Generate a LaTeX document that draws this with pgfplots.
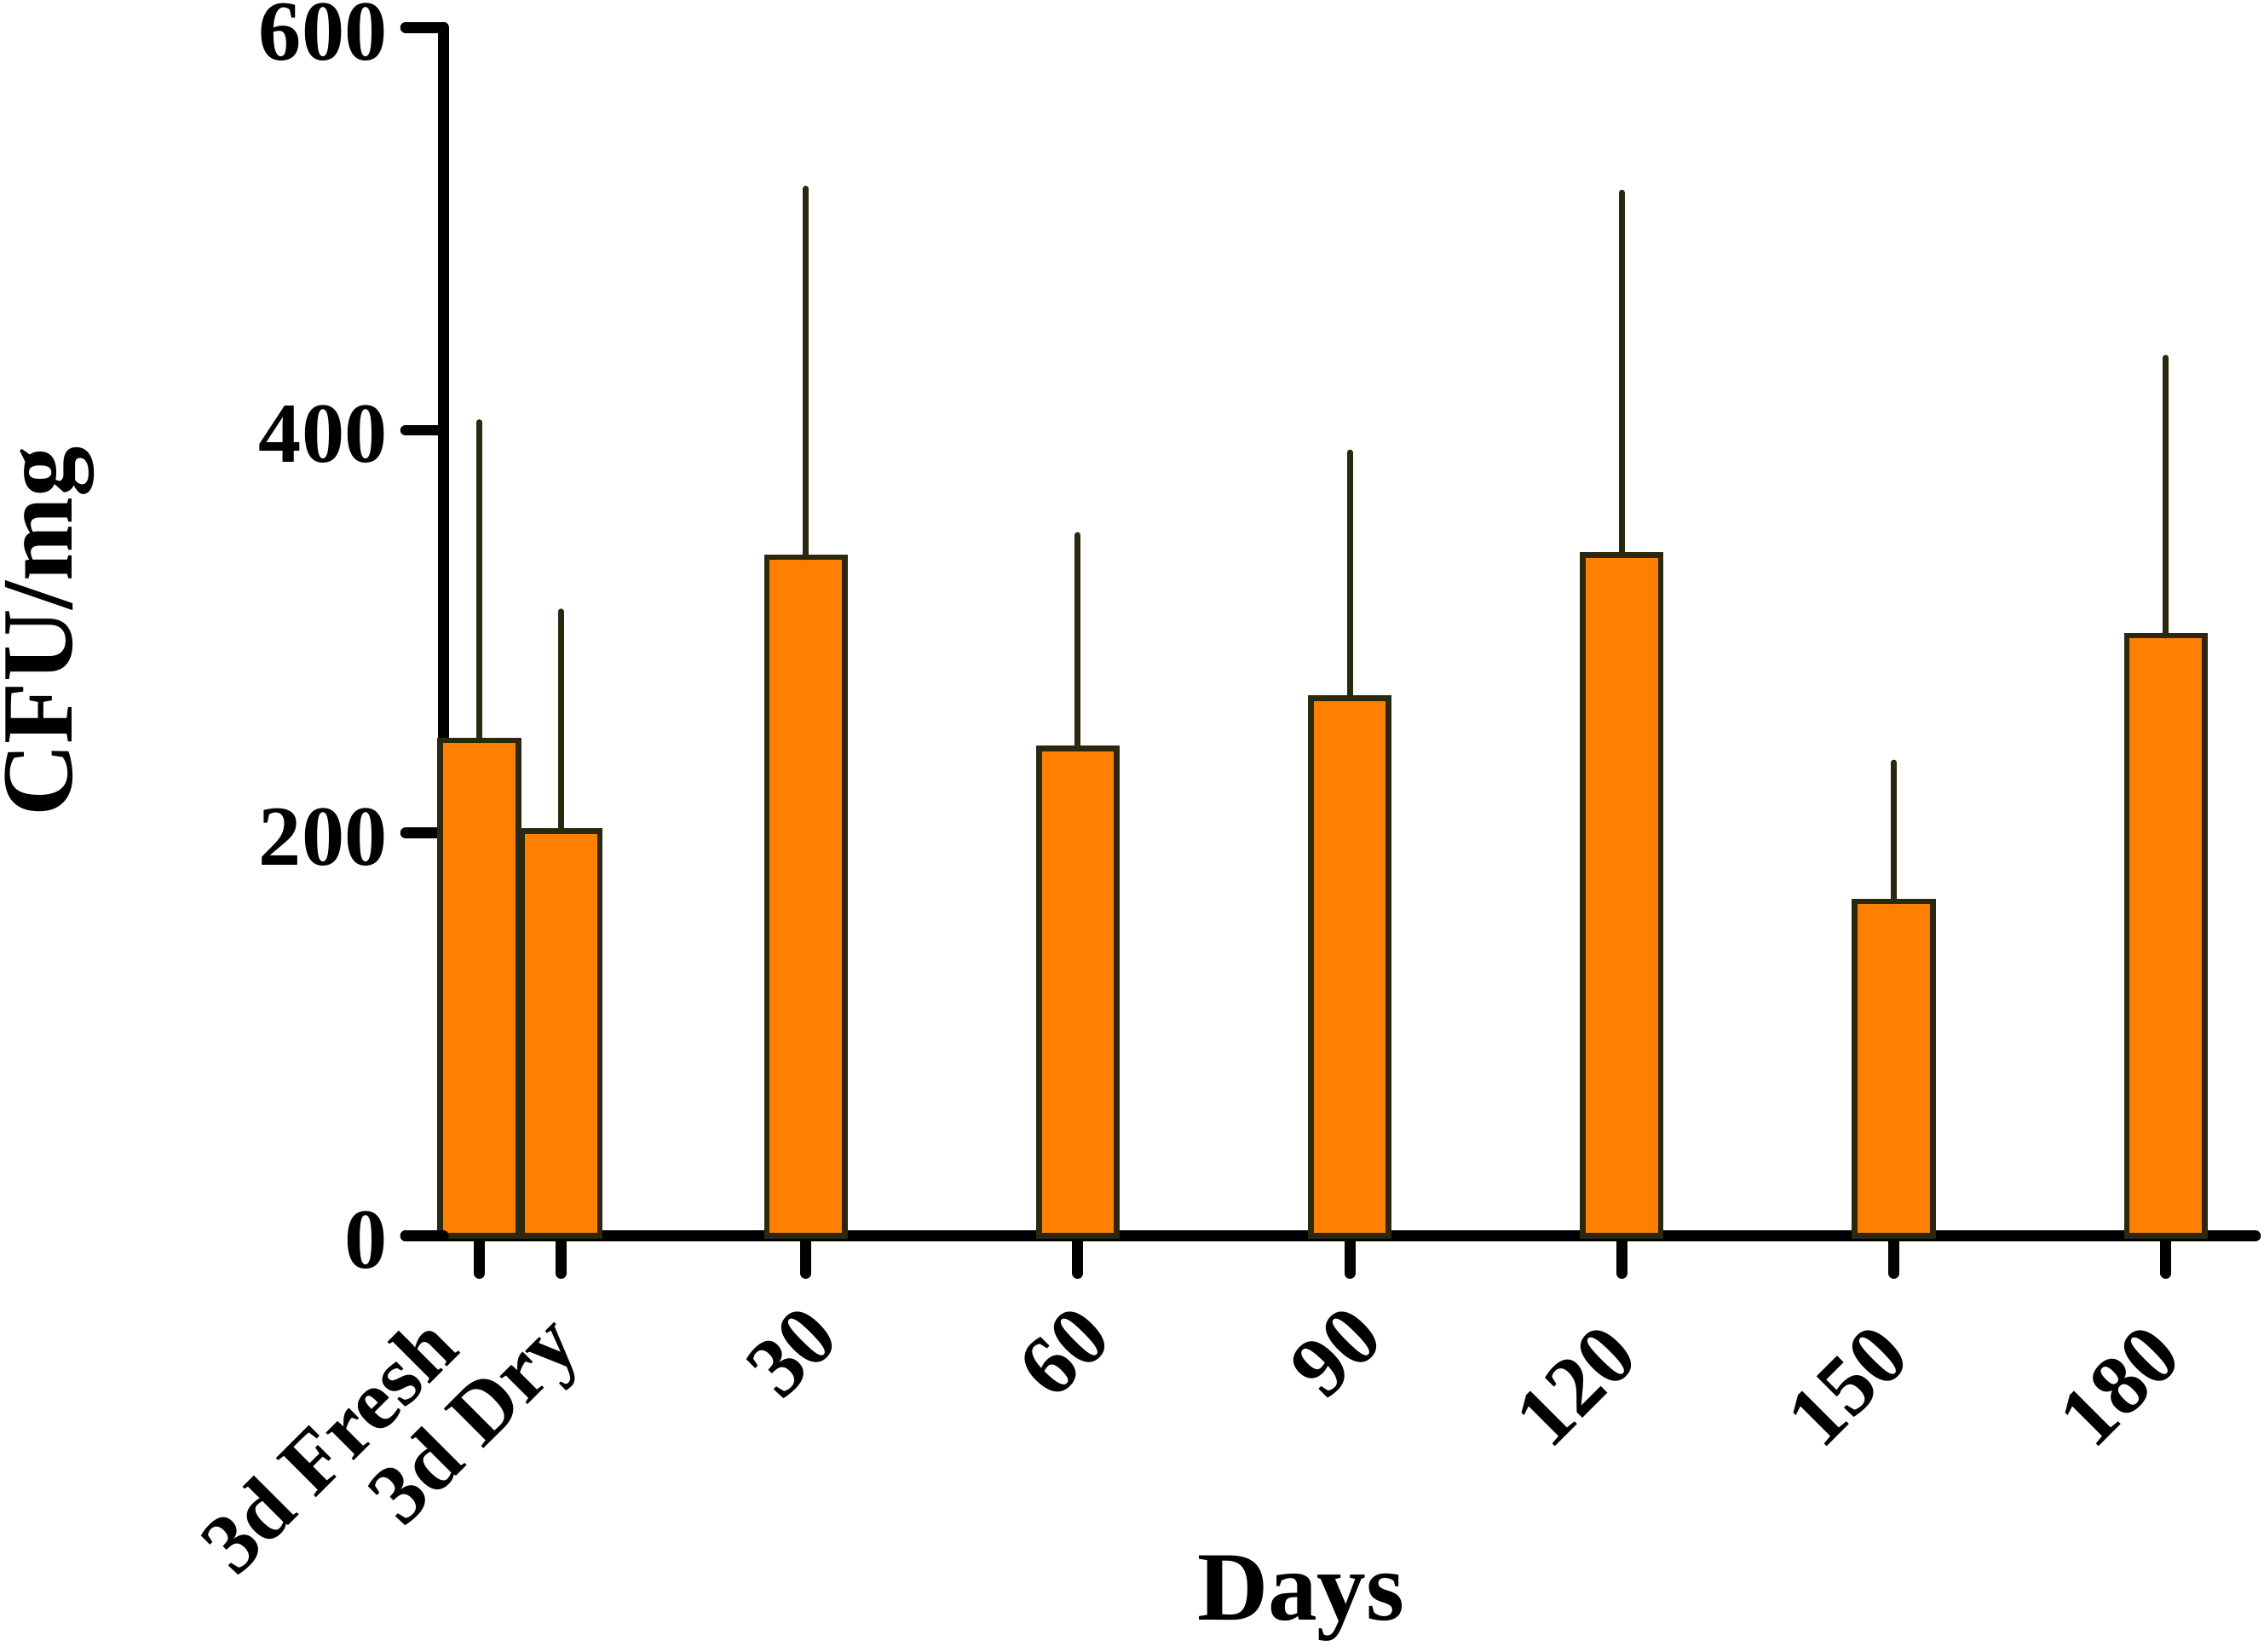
\documentclass[border=0pt]{standalone}
\usepackage{fontspec}
\setmainfont{Liberation Serif}
\usepackage{pgfplots}
\pgfplotsset{compat=1.18}
\usepackage{pgfplotstable}
\definecolor{barfill}{RGB}{255,128,0}
\definecolor{baredge}{RGB}{42,40,14}

\pgfplotstableread{
x y err
0 246 158
0.3 201 109
1.2 337 183
2.2 242 106
3.2 267 122
4.2 338 180
5.2 166 69
6.2 298 138
}\datatable

\begin{document}
\begin{tikzpicture}
\begin{axis}[
  scale only axis,
  width=313.75pt, height=209.25pt,
  xmin=-0.1327, xmax=6.529,
  ymin=0, ymax=600,
  axis lines=left,
  axis line style={-, line width=1.9pt, line cap=round},
  ytick={0,200,400,600},
  xtick={0,0.3,1.2,2.2,3.2,4.2,5.2,6.2},
  xticklabels={3d Fresh,3d Dry,30,60,90,120,150,180},
  tick align=outside,
  major tick length=6.5pt,
  tick style={line width=1.9pt, line cap=round, black},
  /pgf/number format/assume math mode=true,
  ticklabel style={font=\fontsize{14.8}{16}\selectfont\bfseries},
  yticklabel style={inner sep=0pt, xshift=-3pt, yshift=-0.75pt},
  xticklabel style={inner sep=0pt, anchor=east,
    xshift={{-6.5,1.5,3,3,3,0,0,0}[\ticknum]*1pt},
    yshift={{-10,-10.5,-8.25,-8.25,-8.25,-11.5,-11.5,-11.5}[\ticknum]*1pt},
    rotate=45},
  clip=false,
]
\addplot[ybar, bar width=13.5pt, fill=barfill, draw=baredge, line width=1pt,
  error bars/.cd, y dir=plus, y explicit, error mark=none,
  error bar style={line width=1pt, baredge, line cap=round}]
  table[x=x, y=y, y error=err]{\datatable};
\coordinate (O) at (rel axis cs:0,0);
\coordinate (T) at (rel axis cs:1,1);
\coordinate (YL) at (rel axis cs:0,0.5);
\end{axis}
\draw[line width=1.9pt, line cap=round] ([xshift=-6.5pt]O) -- (O);
\node[rotate=90, anchor=north, inner sep=0pt, font=\fontsize{17.5}{20}\selectfont\bfseries] at ([xshift=-76pt]YL) {CFU/mg};
\node[anchor=base, inner sep=0pt, font=\fontsize{17}{20}\selectfont\bfseries] at ([xshift=148.5pt, yshift=-66.5pt]O) {Days};
\pgfresetboundingbox
\path ([xshift=-76.75pt, yshift=-72pt]O) rectangle ([xshift=1.5pt, yshift=4.75pt]T);
\end{tikzpicture}
\end{document}
